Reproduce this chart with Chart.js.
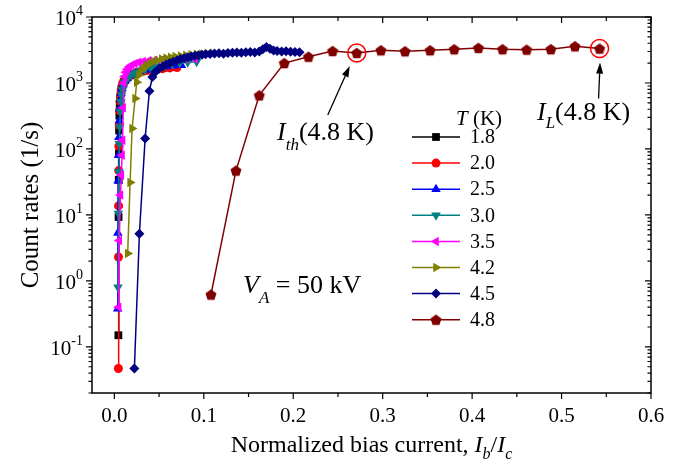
<!DOCTYPE html>
<html>
<head>
<meta charset="utf-8">
<script src="https://cdn.jsdelivr.net/npm/chart.js@4.4.0/dist/chart.umd.min.js"></script>
<style>
  body { margin: 0; background: #fff; }
  canvas { display: block; }
</style>
</head>
<body>
<canvas id="chart" width="681" height="470"></canvas>
<script>
// temperatures (K), one curve each
const temps = ['1.8', '2.0', '2.5', '3.0', '3.5', '4.2', '4.5', '4.8'];

// normalized bias current Ib/Ic and count rate (1/s) per temperature
const x18 = [0.0045, 0.0047, 0.0049, 0.0051, 0.0053, 0.0056, 0.006, 0.0065, 0.0072, 0.008, 0.009, 0.0105, 0.0125, 0.015, 0.018, 0.022, 0.027, 0.033, 0.04, 0.047, 0.055, 0.063];
const y18 = [0.15, 9.3, 34, 86, 190, 320, 450, 580, 700, 820, 930, 1040, 1140, 1230, 1310, 1390, 1460, 1530, 1590, 1650, 1700, 1740];

const x20 = [0.0045, 0.0046, 0.0047, 0.0049, 0.0051, 0.0054, 0.0058, 0.0063, 0.007, 0.0078, 0.0088, 0.01, 0.0118, 0.014, 0.017, 0.021, 0.026, 0.032, 0.039, 0.046, 0.054, 0.062, 0.07];
const y20 = [0.047, 2.3, 13.7, 47, 110, 230, 380, 530, 670, 800, 910, 1020, 1120, 1210, 1290, 1370, 1440, 1500, 1560, 1610, 1650, 1690, 1710];

const x25 = [0.0037, 0.0039, 0.0042, 0.0046, 0.005, 0.0055, 0.006, 0.0067, 0.0075, 0.0085, 0.0098, 0.0115, 0.0135, 0.016, 0.0195, 0.024, 0.029, 0.035, 0.042, 0.05, 0.058, 0.066, 0.075];
const y25 = [0.38, 5.3, 33, 80, 150, 270, 410, 560, 700, 830, 950, 1060, 1160, 1250, 1340, 1420, 1500, 1570, 1640, 1710, 1770, 1820, 1860];

const x30 = [0.004, 0.0045, 0.005, 0.0055, 0.006, 0.0066, 0.0073, 0.0081, 0.009, 0.0102, 0.0117, 0.0135, 0.016, 0.019, 0.023, 0.028, 0.034, 0.041, 0.049, 0.057, 0.065, 0.073, 0.082, 0.092];
const y30 = [0.8, 10.5, 45, 120, 215, 370, 520, 660, 790, 910, 1030, 1140, 1240, 1330, 1420, 1510, 1600, 1690, 1780, 1860, 1940, 2000, 2060, 2100];

const x35 = [0.0048, 0.0055, 0.0068, 0.0078, 0.0086, 0.0092, 0.0098, 0.0105, 0.0115, 0.0128, 0.0145, 0.0167, 0.0195, 0.023, 0.027, 0.032, 0.038, 0.045, 0.053, 0.061, 0.07, 0.08, 0.09];
const y35 = [0.4, 4.1, 20, 40, 80, 135, 420, 1000, 1250, 1450, 1620, 1760, 1880, 1980, 2060, 2120, 2170, 2210, 2240, 2270, 2290, 2310, 2320];

const x42 = [0.0149, 0.0176, 0.0198, 0.0232, 0.025, 0.0275, 0.03, 0.033, 0.036, 0.04, 0.044, 0.048, 0.053, 0.058, 0.063, 0.068, 0.074, 0.08, 0.086, 0.092, 0.098, 0.104, 0.11];
const y42 = [2.6, 31, 204, 580, 1030, 1320, 1530, 1700, 1850, 1990, 2110, 2210, 2300, 2380, 2450, 2510, 2570, 2620, 2670, 2710, 2750, 2790, 2830];

const x45 = [0.0224, 0.028, 0.0344, 0.0392, 0.0425, 0.046, 0.05, 0.054, 0.058, 0.062, 0.066, 0.07, 0.074, 0.078, 0.082, 0.086, 0.09, 0.094, 0.098, 0.102, 0.107, 0.112, 0.117, 0.122, 0.127, 0.132, 0.137, 0.142, 0.147, 0.152, 0.157, 0.162, 0.166, 0.17, 0.174, 0.178, 0.182, 0.187, 0.192, 0.197, 0.202, 0.207];
const y45 = [0.047, 5.2, 144, 757, 1230, 1480, 1650, 1780, 1900, 2000, 2100, 2200, 2300, 2380, 2450, 2520, 2580, 2630, 2680, 2720, 2760, 2800, 2830, 2780, 2850, 2880, 2900, 2860, 2920, 2950, 2900, 3000, 3250, 3500, 3300, 3100, 3050, 3000, 3020, 2980, 2950, 2920];

const x48 = [0.108, 0.136, 0.162, 0.19, 0.217, 0.244, 0.271, 0.298, 0.325, 0.353, 0.38, 0.407, 0.434, 0.461, 0.488, 0.515, 0.5425];
const y48 = [0.62, 47, 650, 2000, 2500, 3050, 2850, 3130, 3020, 3130, 3240, 3400, 3250, 3200, 3250, 3600, 3320];

const xSeries = [x18, x20, x25, x30, x35, x42, x45, x48];
const ySeries = [y18, y20, y25, y30, y35, y42, y45, y48];

// axis ticks
const xTicks = [0, 0.1, 0.2, 0.3, 0.4, 0.5, 0.6];
const xTickLabels = ['0.0', '0.1', '0.2', '0.3', '0.4', '0.5', '0.6'];
const yDecades = [-1, 0, 1, 2, 3, 4];

const colors = ['#000000', '#ff0000', '#0000ff', '#008080', '#ff00ff', '#808000', '#000080', '#800000'];
const serif = '"Liberation Serif", "Times New Roman", serif';

function pentagon(color, r) {
    const c = document.createElement('canvas');
    c.width = c.height = Math.ceil(2 * r + 2);
    const g = c.getContext('2d');
    const cx = c.width / 2, cy = c.height / 2 + 0.5;
    g.fillStyle = color;
    g.beginPath();
    for (let k = 0; k < 5; k++) {
        const a = -Math.PI / 2 + k * 2 * Math.PI / 5;
        g.lineTo(cx + r * Math.cos(a), cy + r * Math.sin(a));
    }
    g.closePath();
    g.fill();
    return c;
}

// marker style per curve: [pointStyle, radius, rotation]
const markers = [
    ['rect', 5.5, 0],
    ['circle', 4.5, 0],
    ['triangle', 5.5, 0],
    ['triangle', 5.5, 180],
    ['triangle', 5.5, 270],
    ['triangle', 5.5, 90],
    ['rectRot', 5, 0],
    [pentagon('#800000', 5.8), 5, 0]
];

const datasets = temps.map((t, i) => ({
    label: t,
    data: xSeries[i].map((x, j) => ({ x: x, y: ySeries[i][j] })),
    showLine: true,
    borderColor: colors[i],
    backgroundColor: colors[i],
    borderWidth: 1.5,
    pointStyle: markers[i][0],
    pointRadius: markers[i][1],
    pointRotation: markers[i][2],
    pointBorderWidth: 0,
    tension: 0,
    order: temps.length - i
}));

function drawRich(ctx, parts, x, y) {
    let cx = x;
    parts.forEach(p => {
        ctx.font = (p[2] ? 'italic ' : '') + p[1] + 'px ' + serif;
        ctx.fillText(p[0], cx, y + (p[3] || 0));
        cx += ctx.measureText(p[0]).width;
    });
    return cx;
}

function richWidth(ctx, parts) {
    let w = 0;
    parts.forEach(p => {
        ctx.font = (p[2] ? 'italic ' : '') + p[1] + 'px ' + serif;
        w += ctx.measureText(p[0]).width;
    });
    return w;
}

function arrow(ctx, x1, y1, x2, y2) {
    const a = Math.atan2(y2 - y1, x2 - x1);
    const len = 11, half = 3.5;
    ctx.beginPath();
    ctx.moveTo(x1, y1);
    ctx.lineTo(x2 - len * Math.cos(a), y2 - len * Math.sin(a));
    ctx.stroke();
    ctx.beginPath();
    ctx.moveTo(x2, y2);
    ctx.lineTo(x2 - len * Math.cos(a) - half * Math.sin(a), y2 - len * Math.sin(a) + half * Math.cos(a));
    ctx.lineTo(x2 - len * Math.cos(a) + half * Math.sin(a), y2 - len * Math.sin(a) - half * Math.cos(a));
    ctx.closePath();
    ctx.fill();
}

const figurePlugin = {
    id: 'figure',
    afterDraw(chart) {
        const ctx = chart.ctx;
        const sx = chart.scales.x, sy = chart.scales.y, a = chart.chartArea;
        ctx.save();
        ctx.fillStyle = '#000';
        ctx.strokeStyle = '#000';
        ctx.lineWidth = 1.5;
        ctx.strokeRect(a.left, a.top, a.right - a.left, a.bottom - a.top);

        // x ticks: outside at the bottom, inside at the top
        ctx.lineWidth = 1.2;
        const xMinor = xTicks.slice(1).map((v, i) => (v + xTicks[i]) / 2);
        const xAll = xTicks.map(v => [v, 6]).concat(xMinor.map(v => [v, 4]));
        xAll.forEach(([v, len]) => {
            const px = sx.getPixelForValue(v);
            ctx.beginPath();
            ctx.moveTo(px, a.bottom); ctx.lineTo(px, a.bottom + len);
            ctx.moveTo(px, a.top); ctx.lineTo(px, a.top + len);
            ctx.stroke();
        });
        // y ticks: outside on the left, inside on the right
        const yAll = [];
        yDecades.forEach(d => yAll.push([Math.pow(10, d), 6]));
        for (let d = -2; d <= 3; d++) {
            for (let m = 2; m <= 9; m++) {
                const v = m * Math.pow(10, d);
                if (v >= sy.min && v <= sy.max) yAll.push([v, 3.5]);
            }
        }
        yAll.forEach(([v, len]) => {
            const py = sy.getPixelForValue(v);
            ctx.beginPath();
            ctx.moveTo(a.left, py); ctx.lineTo(a.left - len, py);
            ctx.moveTo(a.right, py); ctx.lineTo(a.right - len, py);
            ctx.stroke();
        });

        // tick labels
        ctx.textBaseline = 'alphabetic';
        ctx.textAlign = 'center';
        ctx.font = '21px ' + serif;
        xTicks.forEach((v, i) => {
            ctx.fillText(xTickLabels[i], sx.getPixelForValue(v), 422);
        });
        ctx.textAlign = 'left';
        yDecades.forEach(d => {
            const py = sy.getPixelForValue(Math.pow(10, d));
            const exp = d < 0 ? '-' + (-d) : String(d);
            const parts = [['10', 21, false, 0], [exp, 14, false, -10]];
            const w = richWidth(ctx, parts);
            drawRich(ctx, parts, 83 - w, py + 8);
        });

        // axis titles
        const xt = [['Normalized bias current, ', 24, false, 0], ['I', 24, true, 0], ['b', 16, true, 7], ['/', 24, false, 0], ['I', 24, true, 0], ['c', 16, true, 7]];
        const xw = richWidth(ctx, xt);
        drawRich(ctx, xt, (a.left + a.right) / 2 - xw / 2, 452);
        ctx.save();
        ctx.translate(38, (a.top + a.bottom) / 2);
        ctx.rotate(-Math.PI / 2);
        ctx.textAlign = 'center';
        ctx.font = '25px ' + serif;
        ctx.fillText('Count rates (1/s)', 0, 0);
        ctx.restore();

        // circled threshold and limit points on the 4.8 K curve
        const th = { x: sx.getPixelForValue(x48[6]), y: sy.getPixelForValue(y48[6]) };
        const lim = { x: sx.getPixelForValue(x48[16]), y: sy.getPixelForValue(y48[16]) };
        ctx.strokeStyle = '#ff0000';
        ctx.lineWidth = 1.5;
        [th, lim].forEach(p => {
            ctx.beginPath();
            ctx.arc(p.x, p.y, 9, 0, 2 * Math.PI);
            ctx.stroke();
        });
        ctx.strokeStyle = '#000';
        ctx.lineWidth = 1.3;
        arrow(ctx, th.x - 29, th.y + 62, th.x - 7, th.y + 13);
        arrow(ctx, lim.x - 1, lim.y + 50, lim.x + 0.5, lim.y + 14);

        ctx.textAlign = 'left';
        drawRich(ctx, [['I', 26, true, 0], ['th', 17, true, 10], ['(4.8 K)', 26, false, 0]], 277, 140);
        drawRich(ctx, [['I', 26, true, 0], ['L', 17, true, 8], ['(4.8 K)', 26, false, 0]], 537, 120);
        drawRich(ctx, [['V', 26, true, 0], ['A', 17, true, 10], [' = 50 kV', 26, false, 0]], 243, 293);

        // legend
        drawRich(ctx, [['T', 21, true, 0], [' (K)', 21, false, 0]], 456, 125);
        ctx.font = '20px ' + serif;
        ctx.textBaseline = 'middle';
        temps.forEach((t, i) => {
            const ly = 137 + i * 26.1;
            ctx.strokeStyle = colors[i];
            ctx.fillStyle = colors[i];
            ctx.lineWidth = 1.5;
            ctx.beginPath();
            ctx.moveTo(412, ly); ctx.lineTo(460, ly);
            ctx.stroke();
            Chart.helpers.drawPoint(ctx, {
                pointStyle: markers[i][0], radius: markers[i][1], rotation: markers[i][2], borderWidth: 0
            }, 436, ly);
            ctx.fillStyle = '#000';
            ctx.fillText(t, 470, ly + 1);
        });
        ctx.restore();
    }
};

new Chart(document.getElementById('chart'), {
    type: 'scatter',
    data: { datasets: datasets },
    options: {
        responsive: false,
        animation: false,
        devicePixelRatio: 1,
        layout: { padding: { left: 0, right: 30, top: 17, bottom: 0 } },
        plugins: { legend: { display: false }, tooltip: { enabled: false } },
        scales: {
            x: {
                type: 'linear', min: -0.025, max: 0.6,
                ticks: { display: false }, grid: { display: false }, border: { display: false },
                afterFit(s) { s.height = 77; }
            },
            y: {
                type: 'logarithmic', min: 0.02, max: 10000,
                ticks: { display: false }, grid: { display: false }, border: { display: false },
                afterFit(s) { s.width = 92; }
            }
        }
    },
    plugins: [figurePlugin]
});
</script>
</body>
</html>
